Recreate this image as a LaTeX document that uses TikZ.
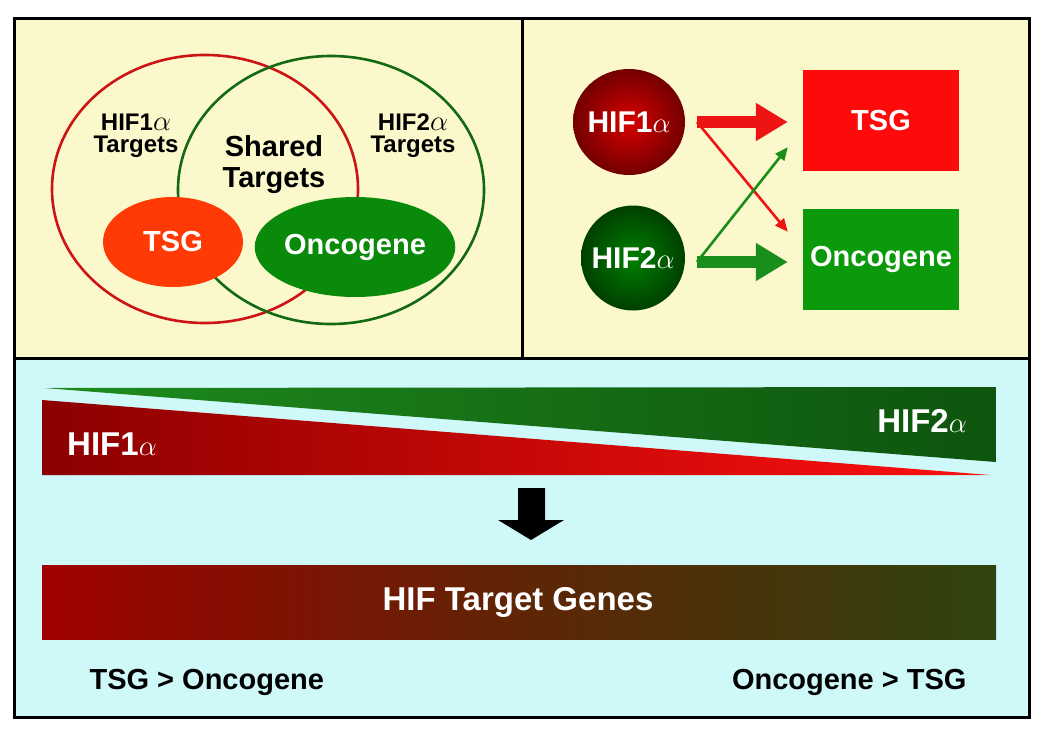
\documentclass[tikz,border=0pt]{standalone}
\usepackage{fontspec}
\setmainfont{Liberation Sans}
\usetikzlibrary{shapes.geometric,arrows.meta,calc}
\definecolor{panelY}{HTML}{FBF8CB}
\definecolor{panelC}{HTML}{CFF9F9}
\definecolor{vred}{HTML}{CC1414}
\definecolor{vgreen}{HTML}{136A13}
\definecolor{tsgO}{HTML}{FF3A05}
\definecolor{oncG}{HTML}{0A8A0A}
\definecolor{arRed}{HTML}{EE1414}
\definecolor{arGreen}{HTML}{1A8E1A}
\definecolor{rectRed}{HTML}{FF0A0A}
\definecolor{rectGreen}{HTML}{0B9A0B}
\definecolor{wgL}{HTML}{1E8C1E}
\definecolor{wgR}{HTML}{0E540E}
\definecolor{wrL}{HTML}{8C0000}
\definecolor{wrR}{HTML}{FF1010}
\definecolor{barL}{HTML}{A00000}
\definecolor{barM}{HTML}{5F2505}
\definecolor{barR}{HTML}{2F440F}
\newcommand{\fs}[1]{\fontsize{#1}{#1}\selectfont\bfseries}
\newcommand{\alp}{\scalebox{1.15}{$\alpha$}}
\begin{document}
\begin{tikzpicture}[x=1pt,y=-1pt,
  venn/.style={ellipse,line width=2.6pt,minimum width=306pt,minimum height=268pt,inner sep=0pt},
  gene/.style={ellipse,inner sep=0pt,text=white,font=\fs{29}},
  lbl/.style={align=center,font=\fs{24},text=black},
  ball/.style={ellipse,inner sep=0pt},
  balltext/.style={text=white,font=\fs{30}},
  generect/.style={rectangle,inner sep=0pt,minimum width=156pt,text=white,font=\fs{29}},
  fat/.style={line width=12pt,-{Triangle[width=36pt,length=32pt]},shorten >=15pt},
  thin/.style={line width=2.6pt,-{Triangle[width=11pt,length=13pt]}},
  wlbl/.style={text=white,font=\fs{33}},
  blbl/.style={text=black,font=\fs{29}}]
\useasboundingbox (0,0) rectangle (1050,734);
\fill[white] (0,0) rectangle (1050,734);
% panels
\fill[panelY] (14,18) rectangle (1029,358);
\fill[panelC] (14,358) rectangle (1029,717);
\draw[line width=3pt] (14,18) rectangle (1029,717);
\draw[line width=3pt] (14,358) -- (1029,358);
\draw[line width=3pt] (522,18) -- (522,358);
% Venn
\node[venn,draw=vred] (c1) at (205,189) {};
\node[venn,draw=vgreen] (c2) at (331,190) {};
\node[gene,fill=tsgO,minimum width=140pt,minimum height=90pt] (tsgA) at (173,242) {TSG};
\node[gene,fill=oncG,minimum width=152pt,minimum height=100pt] (oncA) at (355,247) {Oncogene};
\node[lbl] (l1) at (136,136) {HIF1\alp\\[-2pt]Targets};
\node[lbl] (l2) at (413,136) {HIF2\alp\\[-2pt]Targets};
\node[lbl,font=\fs{29}] (l3) at (274,165) {Shared\\[2pt]Targets};
% right panel
\node[ball,shade,inner color=red!85!black,outer color=red!45!black,minimum width=112pt,minimum height=106pt,
  label={[balltext]center:HIF1\alp}] (h1) at (629,122) {};
\node[ball,shade,inner color=green!50!black,outer color=green!25!black,minimum width=104pt,minimum height=105pt,
  label={[balltext]center:HIF2\alp}] (h2) at (633,258) {};
\node[generect,fill=rectRed,minimum height=101pt] (tsgB) at (881,120.5) {TSG};
\node[generect,fill=rectGreen,minimum height=101pt] (oncB) at (881,259.5) {Oncogene};
\coordinate (s1) at (697,122);
\coordinate (s2) at (697,262);
\draw[thin,arRed] (s1) -- ($(oncB.north west)+(-15,23)$);
\draw[thin,arGreen] (s2) -- ($(tsgB.south west)+(-15,-24)$);
\draw[fat,arRed] (s1) -- (s1 -| tsgB.west);
\draw[fat,arGreen] (s2) -- (s2 -| oncB.west);
% bottom panel
\shade[left color=wgL,right color=wgR] (44,388) -- (996,387) -- (996,462) -- cycle;
\shade[left color=wrL,right color=wrR] (42,400) -- (42,475) -- (990,475) -- cycle;
\node[wlbl] (w1) at (112,444) {HIF1\alp};
\node[wlbl] (w2) at (922,421) {HIF2\alp};
\fill[black] (518,488) -- (545,488) -- (545,520) -- (564,520) -- (531,540) -- (498,520) -- (518,520) -- cycle;
\shade[left color=barL,right color=barR,middle color=barM] (42,565) rectangle (996,639);
\node[wlbl,font=\fs{33}] (bar) at (518,602) {HIF Target Genes};
\node[blbl,anchor=west] (t1) at (86,682) {TSG > Oncogene};
\node[blbl,anchor=east] (t2) at (970,682) {Oncogene > TSG};
\end{tikzpicture}
\end{document}
